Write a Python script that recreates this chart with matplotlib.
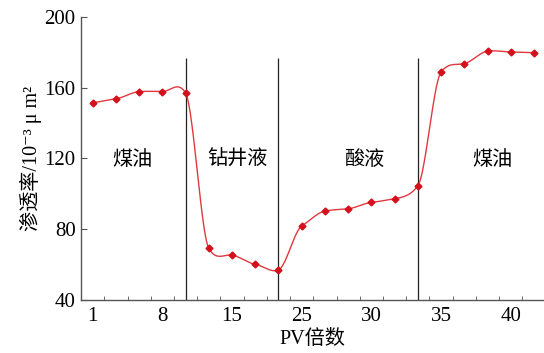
import matplotlib.pyplot as plt
import numpy as np

plt.rcParams['font.family'] = ['Liberation Serif', 'Noto Sans CJK SC', 'DejaVu Sans']

# permeability per sample point (equally spaced on x)
permeability = [151.6, 153.8, 157.8, 157.8, 157.0,
                69.2, 65.4, 60.2, 57.0,
                81.8, 90.3, 91.6, 95.2, 97.3, 104.6,
                168.9, 173.6, 180.7, 180.2, 179.8]
tick_pos = [0, 3, 6, 9, 12, 15, 18]
tick_labels = ["1", "8", "15", "25", "30", "35", "40"]
stage_bounds = [4, 8, 14]
stage_names = ["煤油", "钻井液", "酸液", "煤油"]
stage_text_x = [1.7, 6.25, 11.7, 17.2]


def cardinal_spline(y, tension=0.5, n=40):
    # smooth drawn line through the points (cardinal hermite spline)
    y = np.asarray(y, float)
    k = len(y)
    m = np.zeros(k)
    m[1:-1] = (1 - tension) * (y[2:] - y[:-2]) / 2
    m[0] = (1 - tension) * (y[1] - y[0])
    m[-1] = (1 - tension) * (y[-1] - y[-2])
    xs, ys = [], []
    t = np.linspace(0, 1, n, endpoint=False)
    h00 = 2 * t ** 3 - 3 * t ** 2 + 1
    h10 = t ** 3 - 2 * t ** 2 + t
    h01 = -2 * t ** 3 + 3 * t ** 2
    h11 = t ** 3 - t ** 2
    for i in range(k - 1):
        xs.append(i + t)
        ys.append(h00 * y[i] + h10 * m[i] + h01 * y[i + 1] + h11 * m[i + 1])
    xs.append([k - 1])
    ys.append([y[-1]])
    return np.concatenate(xs), np.concatenate(ys)


x = np.arange(len(permeability))
xs, ys = cardinal_spline(permeability)

fig = plt.figure(figsize=(5.44, 3.53), dpi=100)
ax = fig.add_axes([0.149, 0.150, 0.851, 0.802])

ax.vlines(stage_bounds, 40, 177, colors='#222222', linewidth=0.9)
ax.plot(xs, ys, color='#e0393e', linewidth=1.0)
ax.plot(x, permeability, linestyle='none', marker='D', markersize=3.5, color='#d4101c')

for sx, name in zip(stage_text_x, stage_names):
    ax.text(sx, 119, name, ha='center', va='center', fontsize=14.5)

ax.set_xlim(-0.5, 19.43)
ax.set_ylim(40, 200)
ax.set_xticks(tick_pos)
ax.set_xticklabels(tick_labels)
ax.set_xticks(np.arange(0.5, 19, 1), minor=True)
ax.set_yticks([40, 80, 120, 160, 200])
ax.tick_params(axis='x', which='major', length=0, labelsize=15, pad=5)
ax.tick_params(axis='x', which='minor', direction='in', length=3, color='#555555')
ax.tick_params(axis='y', direction='in', length=4, labelsize=15, color='#555555', pad=4)

for s in ['top', 'right']:
    ax.spines[s].set_visible(False)
for s in ['left', 'bottom']:
    ax.spines[s].set_color('#555555')
    ax.spines[s].set_linewidth(1.0)

ax.set_xlabel("PV倍数", fontsize=14.5, labelpad=3)
ax.set_ylabel("渗透率/10⁻³ μ m²", fontsize=14.5, labelpad=2)

fig.savefig("out.png", dpi=100)
